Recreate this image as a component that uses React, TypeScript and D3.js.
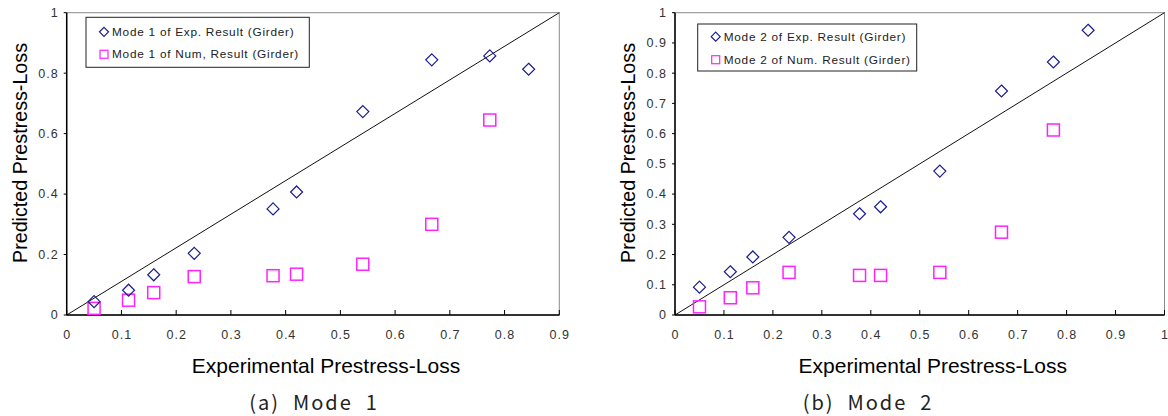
import React from "react";
import * as d3 from "d3";

const expLoss = [0.05, 0.113, 0.159, 0.233, 0.377, 0.42, 0.541, 0.667, 0.773, 0.844];
const mode1Exp = [0.044, 0.082, 0.133, 0.204, 0.351, 0.407, 0.673, 0.844, 0.857, 0.813];
const mode1Num = [0.022, 0.049, 0.074, 0.127, 0.13, 0.135, 0.168, 0.3, 0.645];
const mode2Exp = [0.092, 0.143, 0.192, 0.257, 0.335, 0.358, 0.476, 0.741, 0.837, 0.942];
const mode2Num = [0.027, 0.057, 0.09, 0.141, 0.131, 0.131, 0.141, 0.274, 0.612];
const xTicks1 = [0, 0.1, 0.2, 0.3, 0.4, 0.5, 0.6, 0.7, 0.8, 0.9];
const yTicks1 = [0, 0.2, 0.4, 0.6, 0.8, 1];
const xTicks2 = [0, 0.1, 0.2, 0.3, 0.4, 0.5, 0.6, 0.7, 0.8, 0.9, 1];
const yTicks2 = [0, 0.1, 0.2, 0.3, 0.4, 0.5, 0.6, 0.7, 0.8, 0.9, 1];
const legend1 = ["Mode 1 of Exp. Result (Girder)", "Mode 1 of Num, Result (Girder)"];
const legend2 = ["Mode 2 of Exp. Result (Girder)", "Mode 2 of Num. Result (Girder)"];
const xTitle = "Experimental Prestress-Loss";
const yTitle = "Predicted Prestress-Loss";

const FONT = "'Liberation Sans', Arial, sans-serif";
const NAVY = "#1c1c8f";
const MAG = "#ff22ff";

function diamond(cx: number, cy: number, r: number) {
  return `M${cx},${cy - r}L${cx + r},${cy}L${cx},${cy + r}L${cx - r},${cy}Z`;
}

function Panel(props: {
  left: number; right: number; top: number; bottom: number;
  xMax: number; xTicks: number[]; yTicks: number[];
  exp: number[]; num: number[]; legend: string[];
  legBox: [number, number, number, number]; legRows: [number, number];
  yTitleX: number; caption: string; captionX: number;
}) {
  const { left, right, top, bottom, xMax, xTicks, yTicks, exp, num, legend, legBox, legRows } = props;
  const x = d3.scaleLinear().domain([0, xMax]).range([left, right]);
  const y = d3.scaleLinear().domain([0, 1]).range([bottom, top]);
  const fmt = (v: number) => (v === 0 || v === 1 ? String(v) : d3.format(".1f")(v));
  const line = d3.line<[number, number]>().x((d) => x(d[0])).y((d) => y(d[1]));
  const [lx0, ly0, lx1, ly1] = legBox;
  const cx = (left + right) / 2;
  return (
    <g>
      <rect x={left} y={top} width={right - left} height={bottom - top} fill="white" stroke="#8a8a8a" strokeWidth={1} />
      <path d={line([[0, 0], [xMax, 1]]) || ""} stroke="#111" strokeWidth={1} fill="none" />
      <line x1={left} x2={left} y1={top} y2={bottom} stroke="#000" strokeWidth={1.5} />
      <line x1={left} x2={right} y1={bottom} y2={bottom} stroke="#000" strokeWidth={1.5} />
      {yTicks.map((t) => (
        <g key={"y" + t}>
          <line x1={left - 3} x2={left} y1={y(t)} y2={y(t)} stroke="#000" />
          <text x={left - 8} y={y(t)} dy="0.35em" textAnchor="end" fontSize={12.5} fill="#333" fontFamily={FONT} letterSpacing={1}>{fmt(t)}</text>
        </g>
      ))}
      {xTicks.map((t) => (
        <g key={"x" + t}>
          <line x1={x(t)} x2={x(t)} y1={bottom - 5} y2={bottom} stroke="#000" />
          <text x={x(t) + 0.5} y={bottom + 20} dy="0.35em" textAnchor="middle" fontSize={12.5} fill="#333" fontFamily={FONT} letterSpacing={1}>{fmt(t)}</text>
        </g>
      ))}
      {num.map((v, i) => (
        <rect key={"n" + i} x={x(expLoss[i]) - 6} y={y(v) - 6} width={12} height={12} fill="none" stroke={MAG} strokeWidth={1.5} />
      ))}
      {exp.map((v, i) => (
        <path key={"e" + i} d={diamond(x(expLoss[i]), y(v), 6)} fill="none" stroke={NAVY} strokeWidth={1.2} />
      ))}
      <rect x={lx0} y={ly0} width={lx1 - lx0} height={ly1 - ly0} fill="white" stroke="#222" strokeWidth={1} />
      {legend.map((s, i) => {
        const cy = ly0 + (ly1 - ly0) * legRows[i];
        const mx = lx0 + 18;
        return (
          <g key={"l" + i}>
            {i === 0 ? (
              <path d={diamond(mx, cy, 4.5)} fill="none" stroke={NAVY} strokeWidth={1.2} />
            ) : (
              <rect x={mx - 4} y={cy - 4} width={8} height={8} fill="none" stroke={MAG} strokeWidth={1.2} />
            )}
            <text x={mx + 8} y={cy} dy="0.35em" fontSize={11.8} fill="#222" fontFamily={FONT} letterSpacing={0.75}>{s}</text>
          </g>
        );
      })}
      <text x={cx + 13} y={366} dy="0.35em" textAnchor="middle" fontSize={21} fill="#000" fontFamily={FONT}>{xTitle}</text>
      <text transform={`translate(${props.yTitleX},153) rotate(-90)`} dy="0.35em" textAnchor="middle" fontSize={20} fill="#000" fontFamily={FONT} textLength={220} lengthAdjust="spacingAndGlyphs">{yTitle}</text>
      <text x={props.captionX} y={410} textAnchor="middle" fontSize={20} fill="#222" fontFamily="'Noto Sans CJK KR', 'DejaVu Sans', sans-serif" letterSpacing={2} style={{ whiteSpace: "pre" }}>{props.caption}</text>
    </g>
  );
}

export default function App() {
  return (
    <svg width={1168} height={416} style={{ position: "absolute", left: 0, top: 0, background: "white" }}>
      <Panel left={66.7} right={559.3} top={12.7} bottom={315} xMax={0.9} xTicks={xTicks1} yTicks={yTicks1}
        exp={mode1Exp} num={mode1Num} legend={legend1} legBox={[86, 17.3, 309.3, 67.3]} legRows={[0.29, 0.74]} yTitleX={20} caption="(a)  Mode  1" captionX={314} />
      <Panel left={675} right={1164.5} top={12.7} bottom={315} xMax={1} xTicks={xTicks2} yTicks={yTicks2}
        exp={mode2Exp} num={mode2Num} legend={legend2} legBox={[697.7, 24, 916.7, 71]} legRows={[0.27, 0.76]} yTitleX={628} caption="(b)  Mode  2" captionX={868} />
    </svg>
  );
}
